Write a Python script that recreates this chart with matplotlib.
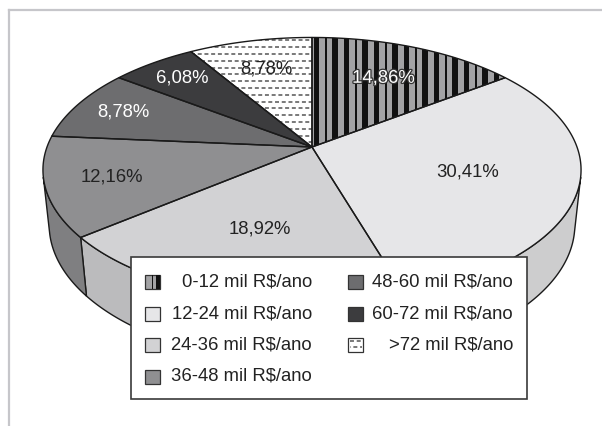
import numpy as np
import matplotlib.pyplot as plt
from matplotlib.patches import Polygon, Rectangle
import matplotlib.patheffects as pe

plt.rcParams['font.family'] = ['Liberation Sans', 'DejaVu Sans']

# faixas de renda e participacao (%)
faixas = ['0-12 mil R$/ano', '12-24 mil R$/ano', '24-36 mil R$/ano',
          '36-48 mil R$/ano', '48-60 mil R$/ano', '60-72 mil R$/ano',
          '>72 mil R$/ano']
percentuais = [14.86, 30.41, 18.92, 12.16, 8.78, 6.08, 8.78]

cores = ['#a3a3a5', '#e6e6e8', '#d2d2d4', '#8f8f91', '#6d6d6f', '#3c3c3e', '#ffffff']
cor_texto = ['white', '#222222', '#222222', '#222222', 'white', 'white', '#222222']
raio_rotulo = [0.66, 0.60, 0.60, 0.76, 0.80, 0.80, 0.70]

# geometria da pizza 3D (pixels)
CX, CY = 312, 147
R = 265
ELEV = np.radians(29)
DIST = 5.06
ALTURA = 0.24
LINHA = '#1a1a1a'


def proj(theta, r=1.0, yh=0.0):
    X = r * np.sin(theta)
    Z = -r * np.cos(theta)
    up = yh * np.cos(ELEV) - Z * np.sin(ELEV)
    w = yh * np.sin(ELEV) + Z * np.cos(ELEV)
    s = DIST / (DIST - w)
    return CX + R * X * s, CY - R * up * s


def escurece(cor, f=0.9):
    c = np.array(plt.matplotlib.colors.to_rgb(cor))
    return tuple(c * f)


def listras(ax, clip, x0, x1, y0, y1, z, padrao=None, periodo=30):
    # barras verticais pretas de larguras variadas
    if padrao is None:
        padrao = [(0, 4.5), (11, 2), (18, 5.5)]
    x = x0
    while x < x1:
        for dx, w in padrao:
            r = Rectangle((x + dx, y0), w, y1 - y0, fc='#111111', ec='none', zorder=z)
            ax.add_patch(r)
            r.set_clip_path(clip)
        x += periodo


def tracejado(ax, clip, x0, x1, y0, y1, z, passo=6.8):
    k = 0
    for y in np.arange(y0, y1, passo):
        ln, = ax.plot([x0, x1], [y, y], color='#555555', lw=1.1,
                      ls=(2.2 * (k % 2), (2.6, 1.8)), zorder=z,
                      solid_capstyle='butt', dash_capstyle='butt')
        ln.set_clip_path(clip)
        k += 1


fig = plt.figure(figsize=(6.02, 4.26), dpi=100)
ax = fig.add_axes([0, 0, 1, 1])
ax.set_xlim(0, 602)
ax.set_ylim(426, 0)
ax.axis('off')

# moldura
ax.plot([9, 602], [10, 10], color='#c6c6ca', lw=1.6, zorder=0)
ax.plot([9, 9], [10, 426], color='#c6c6ca', lw=1.6, zorder=0)

frac = np.array(percentuais) / sum(percentuais)
limites = 2 * np.pi * np.concatenate([[0], np.cumsum(frac)])

# paredes laterais visiveis
ta = np.arccos(-1 / (DIST * np.cos(ELEV)))
tb = 2 * np.pi - ta
for i in range(len(percentuais)):
    lo, hi = max(limites[i], ta), min(limites[i + 1], tb)
    if lo >= hi:
        continue
    t = np.linspace(lo, hi, 120)
    xt, yt = proj(t)
    xb, yb = proj(t[::-1], 1.0, -ALTURA)
    pts = np.column_stack([np.concatenate([xt, xb]), np.concatenate([yt, yb])])
    ax.add_patch(Polygon(pts, closed=True, fc=escurece(cores[i], 0.89), ec=LINHA,
                         lw=1.0, zorder=1))

# faces superiores
for i in range(len(percentuais)):
    t = np.linspace(limites[i], limites[i + 1], 200)
    xt, yt = proj(t)
    pts = np.column_stack([np.concatenate([[CX], xt]), np.concatenate([[CY], yt])])
    face = Polygon(pts, closed=True, fc=cores[i], ec='none', zorder=2)
    ax.add_patch(face)
    if i == 0:
        listras(ax, face, CX + 2, xt.max(), yt.min(), CY, 3)
    if i == len(percentuais) - 1:
        tracejado(ax, face, xt.min(), CX, yt.min() + 3, CY, 3)
    ax.add_patch(Polygon(pts, closed=True, fill=False, ec=LINHA, lw=1.0, zorder=4))

    meio = 0.5 * (limites[i] + limites[i + 1])
    lx, ly = proj(meio, raio_rotulo[i])
    txt = ax.text(lx, ly, f'{percentuais[i]:.2f}%'.replace('.', ','),
                  ha='center', va='center', fontsize=13.3, color=cor_texto[i],
                  zorder=5)
    if i == 0:
        txt.set_path_effects([pe.withStroke(linewidth=1.8, foreground='#333333')])

# legenda
ax.add_patch(Rectangle((131, 257), 396, 142, fc='white', ec='#3a3a3a',
                       lw=1.2, zorder=6))
linhas_y = [282, 313.5, 345, 376.5]
colunas = [(145, 312), (348, 513)]
for i, nome in enumerate(faixas):
    col, lin = divmod(i, 4)
    mx, tx = colunas[col]
    y = linhas_y[lin]
    caixa = Rectangle((mx, y - 7), 15, 14, fc=cores[i], ec='#333333',
                      lw=0.9, zorder=7)
    ax.add_patch(caixa)
    if i == 0:
        listras(ax, caixa, mx + 7, mx + 16, y - 8, y + 8, 7.5,
                padrao=[(0, 1.2), (4, 5)], periodo=20)
    if i == len(faixas) - 1:
        tracejado(ax, caixa, mx + 2, mx + 14, y - 4, y + 6, 7.5, passo=6)
    ax.text(tx, y, nome, ha='right', va='center', fontsize=13.3,
            color='#222222', zorder=8)

plt.savefig('out.png', dpi=100)
